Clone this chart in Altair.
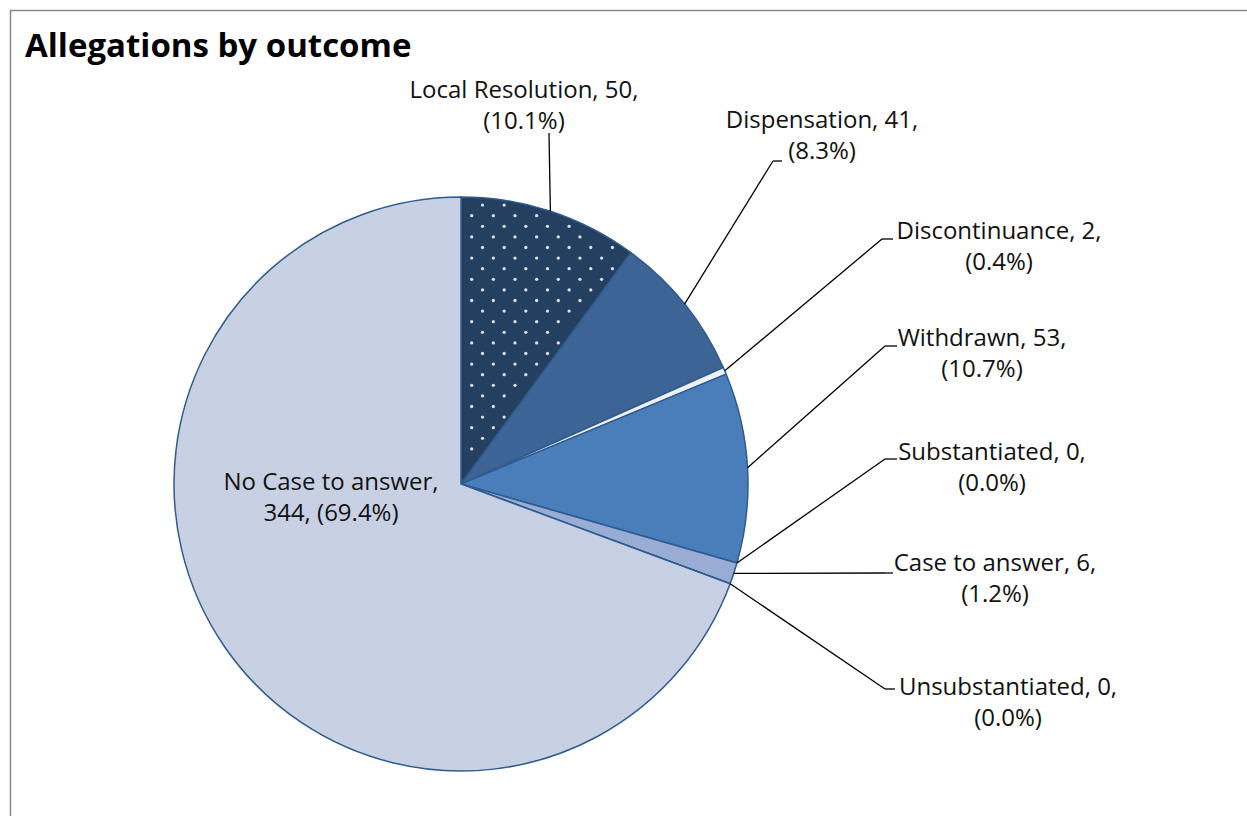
import altair as alt
import pandas as pd
import numpy as np

# ---- data ----
title_text = "Allegations by outcome"
categories = ["Local Resolution", "Dispensation", "Discontinuance", "Withdrawn",
              "Substantiated", "Case to answer", "Unsubstantiated", "No Case to answer"]
counts = [50, 41, 2, 53, 0, 6, 0, 344]
colors = ["#243f60", "#3c6595", "#eef1f6", "#4a7ebb", "#4a7ebb", "#98acd4", "#98acd4", "#c8d1e4"]

# ---- layout (pixels) ----
W, H = 1247, 816
CX, CY, R = 461, 484, 287
LINE_GAP = 31
# label layout: (text centre x, line-1 baseline y, elbow x, elbow y, end x)  None -> inside label
label_layout = [
    (524, 98, 549, 133, 549),
    (822, 128, 773, 161, 782),
    (999, 239, 882, 239, 893),
    (982, 346, 885, 346, 897),
    (992, 460, 885, 459, 897),
    (995, 571, 885, 573, 893),
    (1008, 695, 885, 689, 895),
    (331, 490, None, None, None),
]

total = sum(counts)
df = pd.DataFrame({"category": categories, "count": counts, "idx": range(len(counts))})
df["pct"] = df["count"] / total * 100
cum = np.cumsum([0] + counts[:-1])
mid = (cum + np.array(counts) / 2) / total * 2 * np.pi
df["sx"] = CX + R * np.sin(mid)
df["sy"] = CY - R * np.cos(mid)

text_rows, seg_rows = [], []
for i, row in df.iterrows():
    tx, y1, ex, ey, endx = label_layout[i]
    c, n, p = row["category"], int(row["count"]), row["pct"]
    if ex is None:
        l1, l2 = f"{c},", f"{n}, ({p:.1f}%)"
    else:
        l1, l2 = f"{c}, {n},", f"({p:.1f}%)"
        seg_rows.append({"x": row["sx"], "y": row["sy"], "x2": ex, "y2": ey})
        if endx != ex:
            seg_rows.append({"x": ex, "y": ey, "x2": endx, "y2": ey})
    text_rows.append({"x": tx, "y": y1, "t": l1})
    text_rows.append({"x": tx, "y": y1 + LINE_GAP, "t": l2})
tdf = pd.DataFrame(text_rows)
sdf = pd.DataFrame(seg_rows)

# dot texture for the first slice
a_end = counts[0] / total * 2 * np.pi
pts = []
for r_i in range(-30, 40):
    for c_i in range(-5, 20):
        px = 471.7 + c_i * 21.65 + (10.83 if r_i % 2 else 0)
        py = 215.7 + r_i * 10.6
        dx, dy = px - CX, CY - py
        rr = np.hypot(dx, dy)
        ang = np.arctan2(dx, dy)
        if rr < R - 4 and dx > 4 and 0 <= ang <= a_end and rr * np.sin(a_end - ang) > 4:
            pts.append({"x": px, "y": py})
ddf = pd.DataFrame(pts)

xs = alt.Scale(domain=[0, W], nice=False, zero=False)
ys = alt.Scale(domain=[0, H], nice=False, zero=False, reverse=True)

pie = alt.Chart(df).mark_arc(radius=R, stroke="#2f5b8f", strokeWidth=1.5).encode(
    theta=alt.Theta("count:Q", stack=True),
    order=alt.Order("idx:Q"),
    color=alt.Color("category:N", scale=alt.Scale(domain=categories, range=colors), legend=None),
    x=alt.value(CX), y=alt.value(CY),
)

dots = alt.Chart(ddf).mark_circle(size=11, color="#d9dfe8", opacity=1).encode(
    x=alt.X("x:Q", scale=xs, axis=None), y=alt.Y("y:Q", scale=ys, axis=None)
)

leaders = alt.Chart(sdf).mark_rule(color="#000000", strokeWidth=1.3).encode(
    x=alt.X("x:Q", scale=xs, axis=None), y=alt.Y("y:Q", scale=ys, axis=None),
    x2="x2:Q", y2="y2:Q",
)

labels = alt.Chart(tdf).mark_text(font="Open Sans", fontSize=24, align="center",
                                  baseline="alphabetic", color="#111111").encode(
    x=alt.X("x:Q", scale=xs, axis=None), y=alt.Y("y:Q", scale=ys, axis=None), text="t:N"
)

title = alt.Chart(pd.DataFrame({"t": [title_text]})).mark_text(
    font="Open Sans", fontSize=33, fontWeight="bold", align="left", baseline="alphabetic",
    color="#000000").encode(x=alt.value(25), y=alt.value(57), text="t:N")

border_top = alt.Chart(pd.DataFrame({"a": [0]})).mark_rule(color="#8a8a8a", strokeWidth=1.5).encode(
    x=alt.value(10), x2=alt.value(W), y=alt.value(10.5))
border_left = alt.Chart(pd.DataFrame({"a": [0]})).mark_rule(color="#8a8a8a", strokeWidth=1.5).encode(
    x=alt.value(10.5), y=alt.value(10), y2=alt.value(H))

chart = alt.layer(border_top, border_left, pie, dots, leaders, labels, title).properties(
    width=W, height=H, padding=0, autosize=alt.AutoSizeParams(type="none"), background="white"
).configure_view(stroke=None)

chart.save("out.html", embed_options={"renderer": "svg", "actions": False})
